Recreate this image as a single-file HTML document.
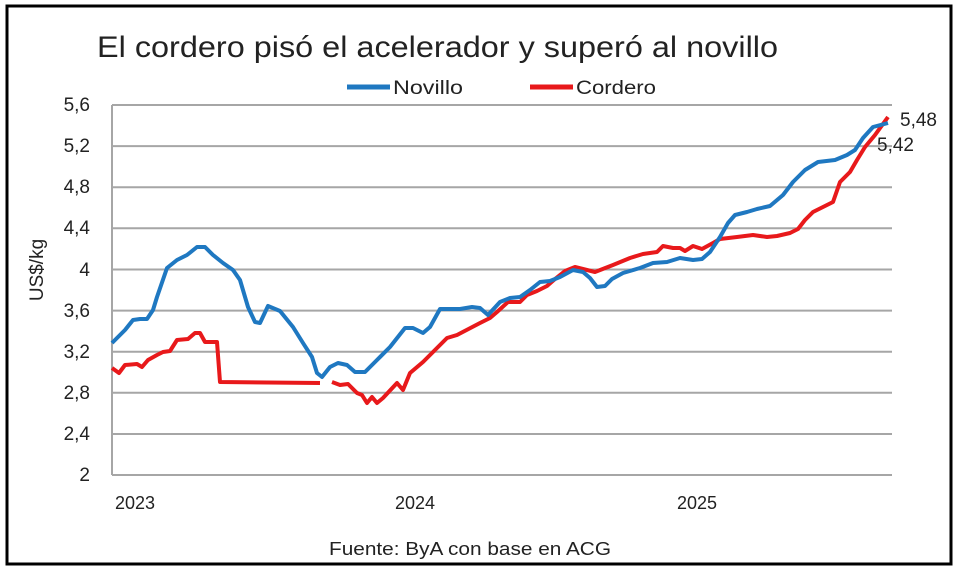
<!DOCTYPE html>
<html><head><meta charset="utf-8"><style>body{margin:0;background:#fff}svg{display:block}</style></head><body>
<svg width="960" height="570" xmlns="http://www.w3.org/2000/svg" font-family="Liberation Sans, sans-serif">
<rect x="0" y="0" width="960" height="570" fill="#fff"/>
<rect x="7" y="6" width="944" height="558" fill="none" stroke="#000" stroke-width="3"/>
<text x="97" y="57" font-size="30" fill="#222" textLength="681" lengthAdjust="spacingAndGlyphs">El cordero pisó el acelerador y superó al novillo</text>
<line x1="347" y1="87" x2="390" y2="87" stroke="#1f78c1" stroke-width="5"/>
<text x="393" y="94" font-size="19" fill="#222" textLength="70" lengthAdjust="spacingAndGlyphs">Novillo</text>
<line x1="530" y1="87" x2="573" y2="87" stroke="#e8191b" stroke-width="5"/>
<text x="576" y="94" font-size="19" fill="#222" textLength="80" lengthAdjust="spacingAndGlyphs">Cordero</text>
<g stroke="#a6a6a6" stroke-width="2">
<line x1="112" y1="105" x2="892" y2="105"/><line x1="112" y1="146.1" x2="892" y2="146.1"/><line x1="112" y1="187.2" x2="892" y2="187.2"/><line x1="112" y1="228.3" x2="892" y2="228.3"/><line x1="112" y1="269.5" x2="892" y2="269.5"/><line x1="112" y1="310.6" x2="892" y2="310.6"/><line x1="112" y1="351.7" x2="892" y2="351.7"/><line x1="112" y1="392.8" x2="892" y2="392.8"/><line x1="112" y1="434" x2="892" y2="434"/><line x1="112" y1="475" x2="892" y2="475"/>
<line x1="112" y1="105" x2="112" y2="475"/>
</g>
<g font-size="19" fill="#222" text-anchor="end">
<text x="90" y="111">5,6</text><text x="90" y="152">5,2</text><text x="90" y="193">4,8</text><text x="90" y="234">4,4</text><text x="90" y="276">4</text><text x="90" y="317">3,6</text><text x="90" y="358">3,2</text><text x="90" y="399">2,8</text><text x="90" y="440">2,4</text><text x="90" y="481">2</text>
</g>
<text transform="translate(43,270) rotate(-90)" font-size="19" fill="#222" text-anchor="middle">US$/kg</text>
<g font-size="18" fill="#222" text-anchor="middle">
<text x="135" y="509">2023</text><text x="415" y="509">2024</text><text x="697" y="509">2025</text>
</g>
<text x="470" y="555" font-size="18" fill="#222" text-anchor="middle" textLength="282" lengthAdjust="spacingAndGlyphs">Fuente: ByA con base en ACG</text>
<polyline fill="none" stroke="#e8191b" stroke-width="4" stroke-linejoin="round" points="112,368 119,373 125,365 137,364 142,367 148,360 157,355 163,352 170,351 177,340 188,339 195,333 200,333 205,342 217,342 220,382 320,383"/>
<polyline fill="none" stroke="#e8191b" stroke-width="4" stroke-linejoin="round" points="332,382 340,385 348,384 357,393 362,395 367,403 372,397 377,403 383,398 397,383 403,390 410,373 423,362 433,352 447,338 457,335 480,323 490,318 497,312 508,302 520,302 527,295 537,291 547,286 555,279 565,271 575,267 595,272 613,265 630,258 643,254 657,252 663,246 673,248 680,248 685,251 693,246 702,249 713,243 720,239 737,237 753,235 767,237 777,236 790,233 798,229 805,220 813,212 823,207 833,202 840,182 850,172 857,160 865,147 875,135 888,117"/>
<polyline fill="none" stroke="#1f78c1" stroke-width="4" stroke-linejoin="round" points="112,343 125,330 133,320 140,319 147,319 153,310 157,297 167,268 177,260 187,255 197,247 205,247 213,255 223,263 233,270 240,280 248,307 255,322 260,323 268,306 280,311 293,327 303,343 312,357 317,373 322,377 330,367 338,363 347,365 355,372 365,372 377,360 390,347 405,328 413,328 423,333 430,327 440,309 460,309 472,307 480,308 488,315 500,302 510,298 520,297 530,290 540,282 550,281 560,277 573,270 583,272 590,278 597,287 605,286 612,279 623,273 640,268 653,263 667,262 680,258 693,260 702,259 710,252 720,237 728,223 735,215 747,212 757,209 770,206 783,195 793,182 805,170 818,162 835,160 847,155 855,150 863,138 873,127 888,123"/>
<text x="900" y="126" font-size="19" fill="#222">5,48</text>
<text x="877" y="151" font-size="19" fill="#222">5,42</text>
</svg>
</body></html>
